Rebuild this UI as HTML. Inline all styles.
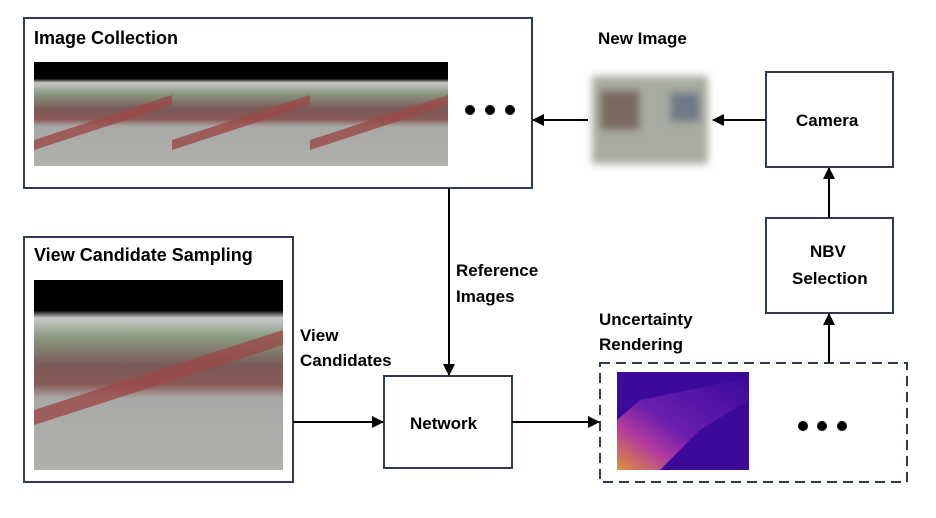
<!DOCTYPE html>
<html><head><style>
body{margin:0;background:#fff;width:936px;height:513px;overflow:hidden}
svg text{font-family:"Liberation Sans",sans-serif;font-weight:bold;font-size:17px;fill:#000}
</style></head><body>
<svg width="936" height="513" viewBox="0 0 936 513">
<defs>
<marker id="a" markerWidth="12" markerHeight="12" refX="11" refY="6" orient="auto" markerUnits="userSpaceOnUse"><path d="M0,0 L12,6 L0,12 z" fill="#000"/></marker>
<linearGradient id="g" x1="0" y1="0" x2="0" y2="1"><stop offset="0" stop-color="#000"/><stop offset="0.16" stop-color="#000"/><stop offset="0.2" stop-color="#c8c8c8"/><stop offset="0.3" stop-color="#8a9a80"/><stop offset="0.45" stop-color="#7a5a58"/><stop offset="0.55" stop-color="#8a5a55"/><stop offset="0.62" stop-color="#a8a8a6"/><stop offset="1" stop-color="#b0b0ad"/></linearGradient>
<linearGradient id="h" x1="0" y1="1" x2="1" y2="0"><stop offset="0" stop-color="#f0a030"/><stop offset="0.25" stop-color="#c040a0"/><stop offset="0.45" stop-color="#7020b0"/><stop offset="1" stop-color="#3a0a9a"/></linearGradient>
<filter id="b"><feGaussianBlur stdDeviation="4"/></filter>
</defs>
<g fill="none" stroke="#2f3b52" stroke-width="2">
<rect x="24" y="18" width="508" height="170"/>
<rect x="24" y="237" width="269" height="245"/>
<rect x="766" y="72" width="127" height="95"/>
<rect x="766" y="218" width="127" height="95"/>
<rect x="384" y="376" width="128" height="92"/>
<rect x="600" y="363" width="307" height="119" stroke-dasharray="10,6"/>
</g>
<rect x="34" y="62" width="138" height="104" fill="url(#g)"/>
<rect x="172" y="62" width="138" height="104" fill="url(#g)"/>
<rect x="310" y="62" width="138" height="104" fill="url(#g)"/>
<rect x="34" y="280" width="249" height="190" fill="url(#g)"/>
<g opacity="0.8"><path d="M34,140 L172,95 L172,105 L34,150z" fill="#9a4a48"/><path d="M172,140 L310,95 L310,105 L172,150z" fill="#9a4a48"/><path d="M310,140 L448,95 L448,105 L310,150z" fill="#9a4a48"/><path d="M34,410 L283,330 L283,345 L34,425z" fill="#9a4a48"/></g>
<g filter="url(#b)"><rect x="592" y="76" width="116" height="88" fill="#a8aca0"/><rect x="600" y="90" width="40" height="40" fill="#7a6a60"/><rect x="670" y="92" width="30" height="30" fill="#707a8a"/></g>
<rect x="617" y="372" width="132" height="98" fill="#3c0a98"/>
<path d="M617,420 L640,400 L749,378 L749,400 L700,430 L660,470 L617,470z" fill="url(#h)" opacity="0.9"/>
<g fill="#000"><circle cx="470" cy="110" r="5"/><circle cx="490" cy="110" r="5"/><circle cx="510" cy="110" r="5"/>
<circle cx="803" cy="426" r="5"/><circle cx="822" cy="426" r="5"/><circle cx="842" cy="426" r="5"/></g>
<g stroke="#000" stroke-width="2" marker-end="url(#a)">
<line x1="766" y1="120" x2="713" y2="120"/>
<line x1="588" y1="120" x2="533" y2="120"/>
<line x1="829" y1="218" x2="829" y2="168"/>
<line x1="829" y1="363" x2="829" y2="314"/>
<line x1="449" y1="188" x2="449" y2="375"/>
<line x1="293" y1="422" x2="383" y2="422"/>
<line x1="512" y1="422" x2="599" y2="422"/>
</g>
<text x="34" y="44" style="font-size:18px">Image Collection</text>
<text x="34" y="261" style="font-size:18px">View Candidate Sampling</text>
<text x="598" y="44">New Image</text>
<text x="796" y="126">Camera</text>
<text x="810" y="257">NBV</text>
<text x="792" y="284">Selection</text>
<text x="410" y="429">Network</text>
<text x="456" y="276">Reference</text>
<text x="456" y="302">Images</text>
<text x="300" y="341">View</text>
<text x="300" y="366">Candidates</text>
<text x="599" y="325">Uncertainty</text>
<text x="599" y="350">Rendering</text>
</svg>
</body></html>
